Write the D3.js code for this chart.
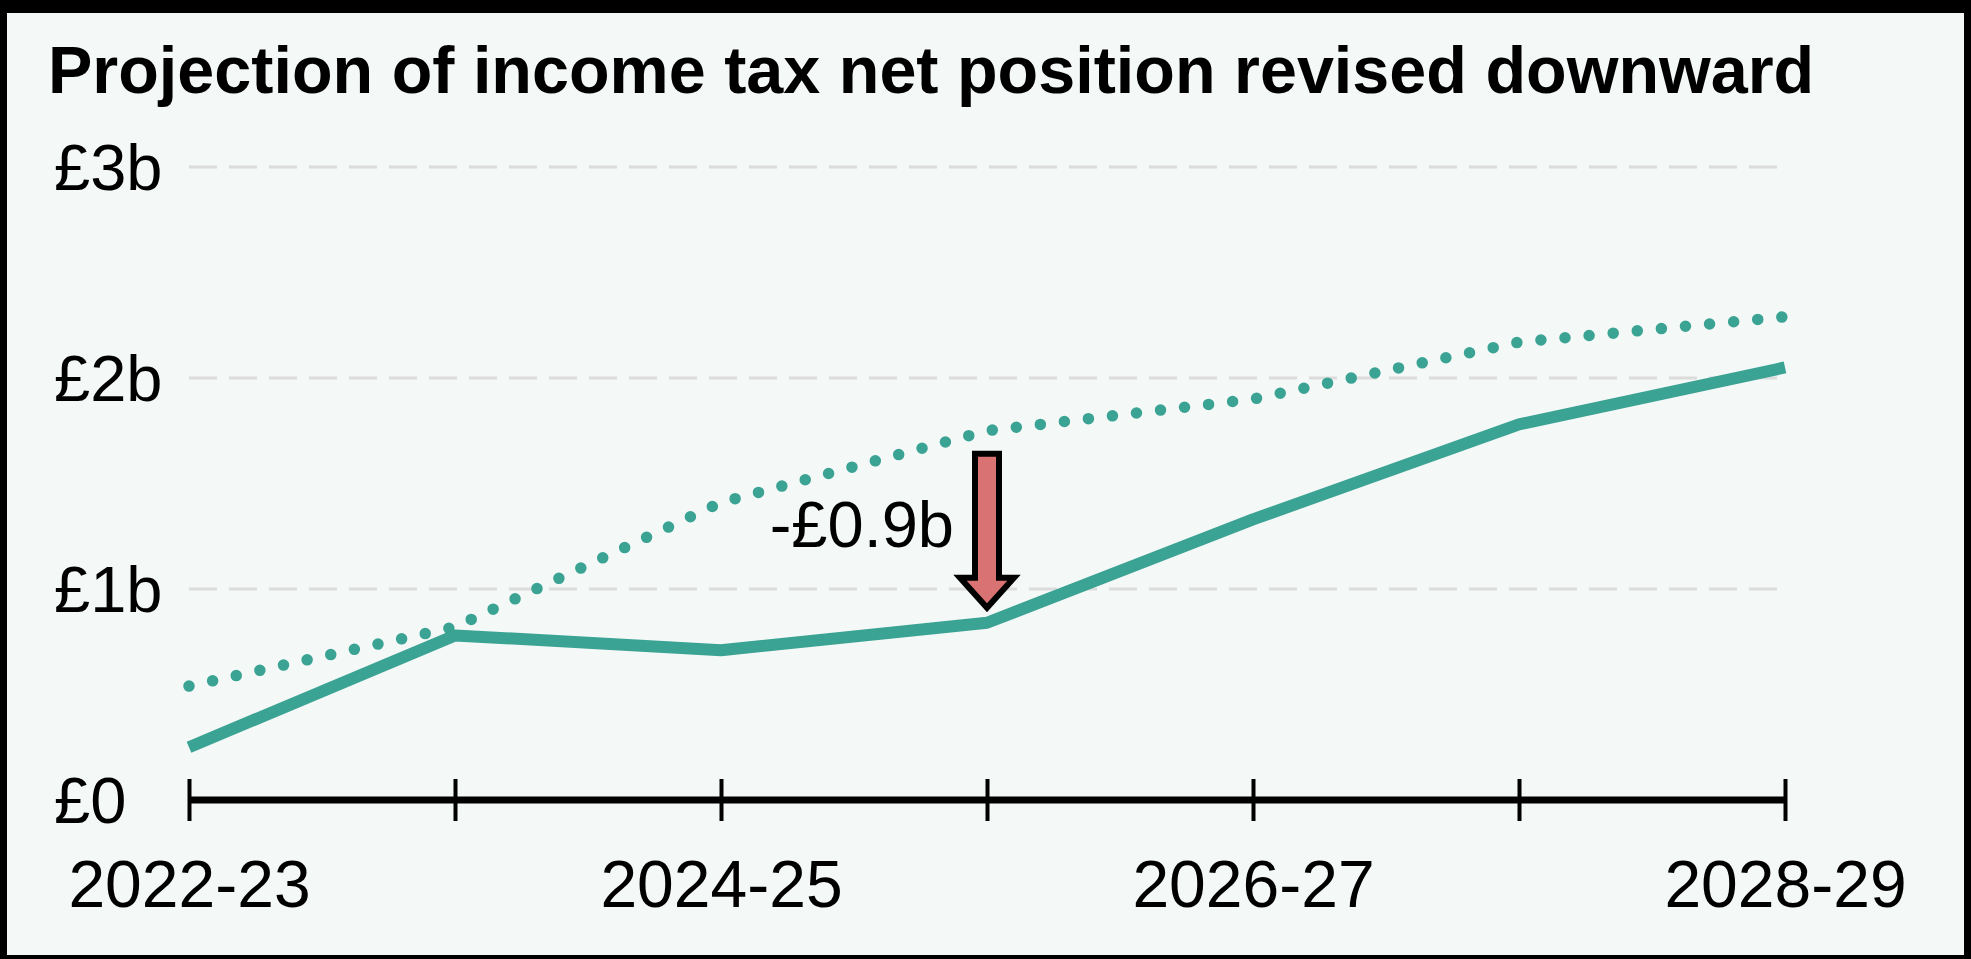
<!DOCTYPE html>
<html>
<head>
<meta charset="utf-8">
<script src="https://cdn.jsdelivr.net/npm/d3@7"></script>
<style>
html,body{margin:0;padding:0;background:#000;}
svg{display:block;}
text{font-family:"Liberation Sans", Arial, Helvetica, sans-serif;}
</style>
</head>
<body>
<svg id="chart" width="1971" height="959"></svg>
<script>
const categories = ["2022-23","2023-24","2024-25","2025-26","2026-27","2027-28","2028-29"];
const tickLabels = ["2022-23","","2024-25","","2026-27","","2028-29"];
const currentValues = [0.25, 0.78, 0.71, 0.84, 1.33, 1.78, 2.05];
const previousValues = [0.54, 0.82, 1.41, 1.75, 1.90, 2.17, 2.29];
const yTicks = [0, 1, 2, 3];
const yTickLabels = ["£0","£1b","£2b","£3b"];
const annotationCategory = "2025-26";
const annotationLabel = "-£0.9b";
const title = "Projection of income tax net position revised downward";

const W = 1971, H = 959;
const svg = d3.select("#chart");
const teal = "#3aa393";

// frame
svg.append("rect").attr("x",0).attr("y",0).attr("width",W).attr("height",H).attr("fill","#000");
svg.append("rect").attr("x",7).attr("y",13).attr("width",1957).attr("height",942).attr("fill","#f4f8f7");

const x = d3.scalePoint().domain(categories).range([189, 1785]);
const y = d3.scaleLinear().domain([0, 3]).range([800, 167]);

// title
svg.append("text").attr("x",48).attr("y",93)
  .attr("font-size",66.5).attr("font-weight","bold").attr("fill","#000")
  .text(title);

// gridlines
svg.append("g").selectAll("line").data(yTicks.filter(d => d > 0)).join("line")
  .attr("x1",189).attr("x2",1785)
  .attr("y1",d => y(d)).attr("y2",d => y(d))
  .attr("stroke","#dcdcdc").attr("stroke-width",3)
  .attr("stroke-dasharray","28,12");

// y labels
svg.append("g").selectAll("text").data(yTicks).join("text")
  .attr("x",54).attr("y",d => y(d))
  .attr("dy","0.35em")
  .attr("font-size",65).attr("fill","#000")
  .text((d,i) => yTickLabels[i]);

// lines
const line = d3.line().x((d,i) => x(categories[i])).y(d => y(d));
svg.append("path").datum(previousValues)
  .attr("d", line).attr("fill","none").attr("stroke",teal)
  .attr("stroke-width",11.5).attr("stroke-linecap","round")
  .attr("stroke-dasharray","0,24.2");
svg.append("path").datum(currentValues)
  .attr("d", line).attr("fill","none").attr("stroke",teal)
  .attr("stroke-width",12).attr("stroke-linejoin","round");

// x axis
const xAxis = d3.axisBottom(x).tickSize(0).tickFormat((d,i) => tickLabels[i]);
const gx = svg.append("g").attr("transform",`translate(0,${y(0)})`).call(xAxis);
gx.select(".domain").remove();
gx.append("line").attr("x1",x(categories[0])).attr("x2",x(categories[categories.length-1]))
  .attr("y1",0).attr("y2",0).attr("stroke","#000").attr("stroke-width",7);
gx.selectAll(".tick").append("line").attr("y1",-21).attr("y2",21)
  .attr("stroke","#000").attr("stroke-width",4);
gx.selectAll(".tick text").attr("y",null).attr("dy",null)
  .attr("transform","translate(0,107)")
  .attr("font-size",66).attr("fill","#000")
  .attr("font-family","\"Liberation Sans\", Arial, Helvetica, sans-serif");

// annotation arrow
const ai = categories.indexOf(annotationCategory);
const ax = x(annotationCategory);
const yTop = y(previousValues[ai]) + 23;
const yTip = y(currentValues[ai]) - 15;
const headH = 30, shaftHW = 12, headHW = 27;
const arrowPath = d3.path();
arrowPath.moveTo(ax - shaftHW, yTop);
arrowPath.lineTo(ax + shaftHW, yTop);
arrowPath.lineTo(ax + shaftHW, yTip - headH);
arrowPath.lineTo(ax + headHW, yTip - headH);
arrowPath.lineTo(ax, yTip);
arrowPath.lineTo(ax - headHW, yTip - headH);
arrowPath.lineTo(ax - shaftHW, yTip - headH);
arrowPath.closePath();
svg.append("path").attr("d", arrowPath.toString())
  .attr("fill","#d97272").attr("stroke","#000").attr("stroke-width",6)
  .attr("stroke-linejoin","miter");

svg.append("text").attr("x", ax - 33).attr("y", 547)
  .attr("text-anchor","end").attr("font-size",65).attr("fill","#000")
  .text(annotationLabel);
</script>
</body>
</html>
